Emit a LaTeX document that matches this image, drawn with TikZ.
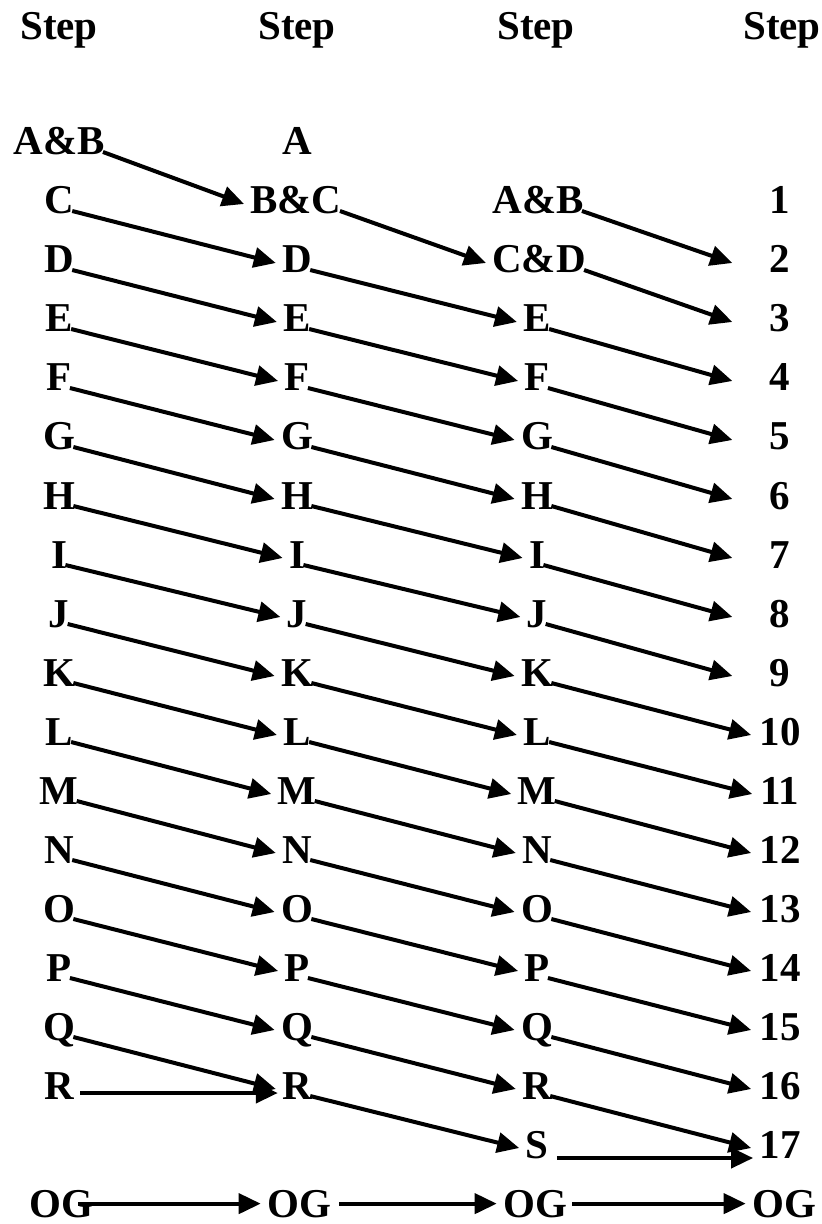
\documentclass[tikz,border=0pt]{standalone}
\usepackage{fontspec}
\setmainfont{Liberation Serif}
\usetikzlibrary{arrows.meta,calc}

\tikzset{
  lbl/.style={font=\fontsize{20.5}{24}\selectfont\bfseries, inner sep=0pt, anchor=base},
  arr/.style={-{Triangle[length=11pt,width=10pt]}, line width=2pt},
}

\begin{document}
\begin{tikzpicture}[x=0.5pt,y=-0.5pt]
  \useasboundingbox (0,0) rectangle (822,1224);

  % headers
  \foreach \x [count=\i] in {59,297,536,782}
    \node[lbl] (step\i) at (\x,40) {Step};

  % first column
  \node[lbl] (a0) at (59,155) {A\&B};
  \foreach \t [count=\i] in {C,D,E,F,G,H,I,J,K,L,M,N,O,P,Q,R}
    \node[lbl] (a\i) at (59,{155+59*\i}) {\t};

  % second column
  \node[lbl] (b0) at (297,155) {A};
  \node[lbl] (b1) at (296,214) {B\&C};
  \foreach \t [count=\i from 2] in {D,E,F,G,H,I,J,K,L,M,N,O,P,Q,R}
    \node[lbl] (b\i) at (297,{155+59*\i}) {\t};

  % third column
  \node[lbl] (c1) at (538,214) {A\&B};
  \node[lbl] (c2) at (539,273) {C\&D};
  \foreach \t [count=\i from 3] in {E,F,G,H,I,J,K,L,M,N,O,P,Q,R,S}
    \node[lbl] (c\i) at (537,{155+59*\i}) {\t};

  % last column
  \foreach \i in {1,...,17}
    \node[lbl] (d\i) at (780,{155+59*\i}) {\i};

  % bottom row
  \foreach \x [count=\i] in {61,299,535,784}
    \node[lbl] (og\i) at (\x,1217) {OG};

  % slanted arrows
  \foreach \i [evaluate=\i as \j using int(\i+1)] in {0,...,15}
    \draw[arr] ($(a\i.base east)+(-2,-3)$) -- ($(b\j.base west)+(-6,-10)$);
  \foreach \i [evaluate=\i as \j using int(\i+1)] in {1,...,16}
    \draw[arr] ($(b\i.base east)+(-2,-3)$) -- ($(c\j.base west)+(-6,-10)$);
  \foreach \i [evaluate=\i as \j using int(\i+1),
               evaluate=\i as \gap using (\i<9 ? 37 : 8)] in {1,...,16}
    \draw[arr] ($(c\i.base east)+(-2,-3)$) -- ($(d\j.base west)+(-\gap,-10)$);

  % straight arrows
  \draw[arr] ($(a16.base east)+(6,-6)$) -- ($(b16.base west)+(-4,-6)$);
  \draw[arr] ($(c17.base east)+(8,0)$) -- ($(d17.base west)+(-6,0)$);
  \foreach \i/\j/\s in {1/2/-15,2/3/8,3/4/5}
    \draw[arr] ($(og\i.east)+(\s,0)$) -- ($(og\j.west)+(-6,0)$);
\end{tikzpicture}
\end{document}
